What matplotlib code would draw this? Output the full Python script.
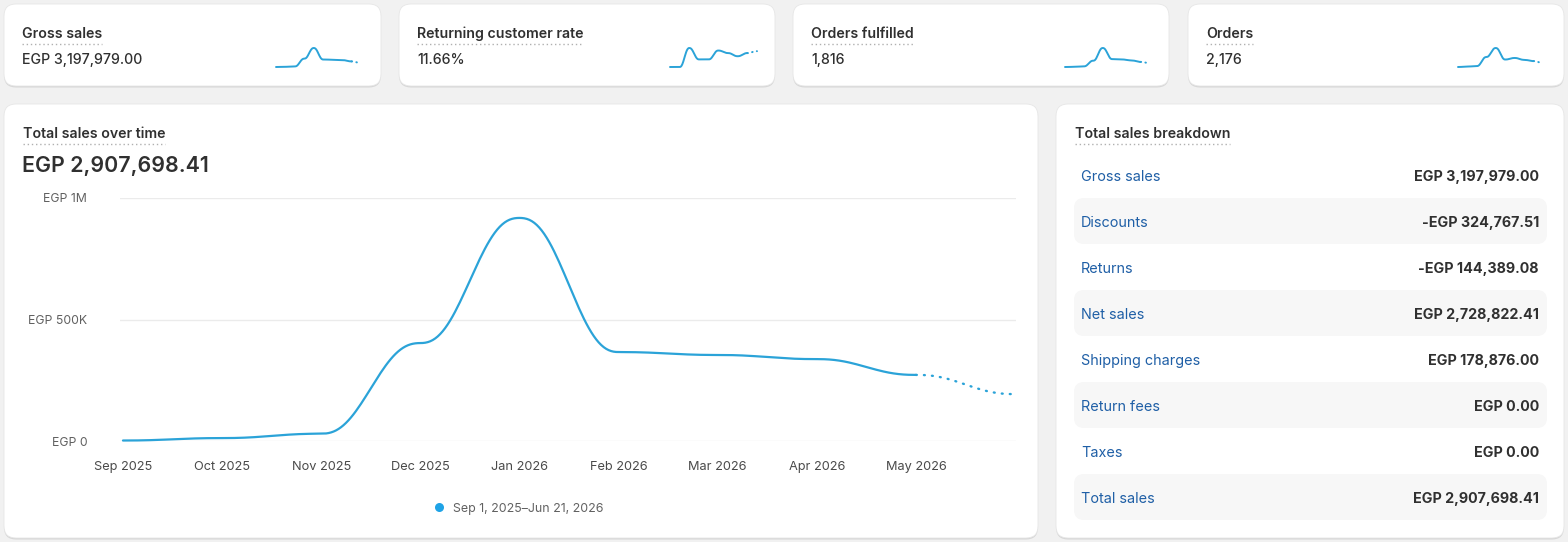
import numpy as np
import matplotlib
matplotlib.use("Agg")
import matplotlib.pyplot as plt
from matplotlib.patches import FancyBboxPatch

# ---------------- data ----------------
month_labels = ["Sep 2025", "Oct 2025", "Nov 2025", "Dec 2025", "Jan 2026",
                "Feb 2026", "Mar 2026", "Apr 2026", "May 2026"]
# monthly total sales Sep 2025 .. Jun 2026 (Jun partial -> dotted)
total_sales = [2000, 12000, 30000, 403000, 918000, 366000, 354000, 337000, 272000, 193000]
y_ticks = [0, 500000, 1000000]
y_tick_labels = ["EGP 0", "EGP 500K", "EGP 1M"]

kpi_titles = ["Gross sales", "Returning customer rate", "Orders fulfilled", "Orders"]
kpi_values = ["EGP 3,197,979.00", "11.66%", "1,816", "2,176"]
spark_gross = [3000, 14000, 33000, 445000, 1010000, 400000, 390000, 370000, 300000, 215000]
spark_rate = [0.0, 0.0, 15.0, 6.0, 6.0, 13.0, 11.0, 8.5, 11.0, 12.5]
spark_fulfilled = [5, 10, 25, 210, 620, 260, 250, 220, 170, 130]
spark_orders = [10, 25, 40, 330, 620, 250, 300, 240, 200, 140]

main_title = "Total sales over time"
main_value = "EGP 2,907,698.41"
legend_label = "Sep 1, 2025\u2013Jun 21, 2026"

breakdown_title = "Total sales breakdown"
breakdown_labels = ["Gross sales", "Discounts", "Returns", "Net sales",
                    "Shipping charges", "Return fees", "Taxes", "Total sales"]
breakdown_values = ["EGP 3,197,979.00", "-EGP 324,767.51", "-EGP 144,389.08",
                    "EGP 2,728,822.41", "EGP 178,876.00", "EGP 0.00", "EGP 0.00",
                    "EGP 2,907,698.41"]

# ---------------- style ----------------
W, H, DPI = 1568, 542, 100
BG = "#f1f1f1"
LINE = "#2ba3d8"
DARK = "#303030"
GRAY = "#616161"
BLUE = "#1f5fa6"
FONT = ["Inter", "DejaVu Sans"]
plt.rcParams["font.family"] = FONT
DY = 1.8  # text vertical nudge (px)


def smooth(y, n=40):
    """Curve with flat tangents at each point (drawing only)."""
    y = np.asarray(y, float)
    xs, ys = [], []
    for i in range(len(y) - 1):
        t = np.linspace(0, 1, n, endpoint=(i == len(y) - 2))
        s = 0.3 * (3 * t ** 2 - 2 * t ** 3) + 0.7 * (6 * t ** 5 - 15 * t ** 4 + 10 * t ** 3)
        xs.append(i + t)
        ys.append(y[i] + (y[i + 1] - y[i]) * s)
    return np.concatenate(xs), np.concatenate(ys)


def draw_series(ax, vals, lw, dot_lw, dots=(0, (0.4, 3.0))):
    xs, ys = smooth(vals)
    last = len(vals) - 2
    m1 = xs <= last
    m2 = xs >= last
    ax.plot(xs[m1], ys[m1], color=LINE, lw=lw, solid_capstyle="round", clip_on=False)
    ax.plot(xs[m2], ys[m2], color=LINE, lw=dot_lw, ls=dots,
            dash_capstyle="round", clip_on=False)


def fig_rect(x0, y0, x1, y1):
    return [x0 / W, 1 - y1 / H, (x1 - x0) / W, (y1 - y0) / H]


fig = plt.figure(figsize=(W / DPI, H / DPI), dpi=DPI, facecolor=BG)
bg = fig.add_axes([0, 0, 1, 1])
bg.set_xlim(0, W)
bg.set_ylim(H, 0)
bg.axis("off")
bg.set_facecolor(BG)
renderer = fig.canvas.get_renderer()


def card(x0, y0, x1, y1, r=12):
    sh = FancyBboxPatch((x0, y0 + 1.5), x1 - x0, y1 - y0,
                        boxstyle=f"round,pad=0,rounding_size={r}",
                        fc="#d6d6d6", ec="none", zorder=1)
    bg.add_patch(sh)
    c = FancyBboxPatch((x0, y0), x1 - x0, y1 - y0,
                       boxstyle=f"round,pad=0,rounding_size={r}",
                       fc="white", ec="#e6e6e6", lw=0.6, zorder=2)
    bg.add_patch(c)


def underlined_title(x, y, s, uy):
    t = bg.text(x, y + DY, s, fontsize=10.2, fontweight="semibold", color=DARK,
                ha="left", va="center", zorder=5)
    bb = t.get_window_extent(renderer)
    bg.plot([bb.x0, bb.x1], [uy, uy], color="#b0b0b0", lw=1,
            ls=(0, (1, 2)), zorder=5)


# ---------------- KPI cards ----------------
card_x = [(4, 381), (399, 775), (793, 1169), (1188, 1564)]
spark_x = [(276, 361), (670, 757), (1065, 1150), (1458, 1543)]
sparks = [spark_gross, spark_rate, spark_fulfilled, spark_orders]
for i in range(4):
    x0, x1 = card_x[i]
    card(x0, 4, x1, 86)
    underlined_title(x0 + 18, 32, kpi_titles[i], 43.5)
    bg.text(x0 + 18, 58 + DY, kpi_values[i], fontsize=10.2, fontweight="medium",
            color=DARK, ha="left", va="center", zorder=5)
    sx0, sx1 = spark_x[i]
    sax = fig.add_axes(fig_rect(sx0, 48, sx1, 67))
    sax.set_zorder(6)
    sax.patch.set_alpha(0)
    sax.axis("off")
    v = sparks[i]
    sax.set_xlim(0, len(v) - 1)
    sax.set_ylim(min(v), max(v))
    draw_series(sax, v, 1.4, 1.4, dots=(0, (0.3, 2.2)))

# ---------------- main chart card ----------------
card(4, 104, 1038, 538)
underlined_title(23, 132, main_title, 143.5)
bg.text(22, 164 + DY, main_value, fontsize=15.4, fontweight="semibold", color=DARK,
        ha="left", va="center", zorder=5)

ax = fig.add_axes(fig_rect(120, 198, 1016, 441))
ax.set_zorder(6)
ax.patch.set_alpha(0)
ax.set_xlim(-0.03, 9.01)
ax.set_ylim(0, 1000000)
for sp in ax.spines.values():
    sp.set_visible(False)
ax.set_yticks(y_ticks)
ax.set_yticklabels(y_tick_labels)
ax.set_xticks(range(len(month_labels)))
ax.set_xticklabels(month_labels)
ax.tick_params(axis="y", length=0, pad=23.5, labelsize=8.8, labelcolor=GRAY)
ax.tick_params(axis="x", length=0, pad=14.5, labelsize=9.2, labelcolor="#4a4a4a")
for lab in ax.get_yticklabels():
    lab.set_horizontalalignment("right")
ax.yaxis.grid(True, color="#ebebeb", lw=1)
ax.xaxis.grid(False)
ax.set_axisbelow(True)
draw_series(ax, total_sales, 1.6, 1.7)

# legend
bg.plot([439], [507], marker="o", ms=6.5, color="#1fa3e6", mec="none", zorder=5)
bg.text(453, 507 + DY, legend_label, fontsize=8.9, color=GRAY, ha="left", va="center", zorder=5)

# ---------------- breakdown card ----------------
card(1056, 104, 1564, 538)
underlined_title(1075, 132, breakdown_title, 143.5)

for i, (lab, val) in enumerate(zip(breakdown_labels, breakdown_values)):
    yc = 175 + 46 * i
    if i % 2 == 1:
        r = FancyBboxPatch((1074, yc - 23), 473, 46,
                           boxstyle="round,pad=0,rounding_size=10",
                           fc="#f7f7f7", ec="none", zorder=3)
        bg.add_patch(r)
    bg.text(1081, yc + DY, lab, fontsize=10.4, color=BLUE, ha="left", va="center", zorder=5)
    bg.text(1539, yc + DY, val, fontsize=10.3, fontweight="bold", color=DARK,
            ha="right", va="center", zorder=5)

fig.savefig("out.png", dpi=DPI, facecolor=BG)
